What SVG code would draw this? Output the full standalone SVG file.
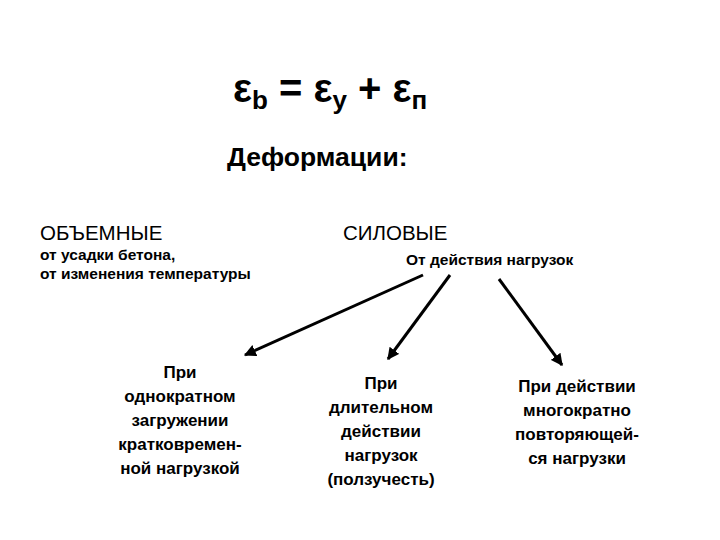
<svg xmlns="http://www.w3.org/2000/svg" width="720" height="540" viewBox="0 0 720 540">
<style>
text{font-family:"Liberation Sans",Arial,sans-serif;fill:#000}
.b{font-weight:bold}
.s{font-size:15.5px;font-weight:bold}
.h{font-size:20.5px}
.m{font-size:17px;font-weight:bold}
.c{text-anchor:middle}
line{stroke:#000;stroke-width:3}
</style>
<defs><marker id="a" viewBox="0 0 10 10" refX="9" refY="5" markerWidth="4" markerHeight="4" orient="auto"><path d="M0,0L10,5L0,10z" fill="#000"/></marker></defs>
<rect width="720" height="540" fill="#fff"/>
<g id="formula"><text x="233" y="102" class="b" font-size="40">ε<tspan font-size="26" dy="7">b</tspan><tspan dy="-7"> = ε</tspan><tspan font-size="26" dy="7">у</tspan><tspan dy="-7"> + ε</tspan><tspan font-size="26" dy="7">п</tspan></text></g>
<g id="title"><text x="227" y="166" class="b" font-size="26.5">Деформации:</text></g>
<g id="volume"><text x="40" y="240" class="h">ОБЪЕМНЫЕ</text>
<text x="40" y="260" class="s">от усадки бетона,</text><text x="40" y="279" class="s">от изменения температуры</text></g>
<g id="force"><text x="343" y="240" class="h">СИЛОВЫЕ</text>
<text x="406" y="265" class="s" font-size="16.5">От действия нагрузок</text></g>
<g id="n1"><text class="m c" x="180" y="378">При</text><text class="m c" x="180" y="402">однократном</text><text class="m c" x="180" y="426">загружении</text><text class="m c" x="180" y="450">кратковремен-</text><text class="m c" x="180" y="474">ной нагрузкой</text></g>
<g id="n2"><text class="m c" x="381" y="389">При</text><text class="m c" x="381" y="413">длительном</text><text class="m c" x="381" y="437">действии</text><text class="m c" x="381" y="461">нагрузок</text><text class="m c" x="381" y="485">(ползучесть)</text></g>
<g id="n3"><text class="m c" x="577" y="392">При действии</text><text class="m c" x="577" y="416">многократно</text><text class="m c" x="577" y="440">повторяющей-</text><text class="m c" x="577" y="464">ся нагрузки</text></g>
<g id="connectors">
<line x1="423" y1="275" x2="245" y2="355" marker-end="url(#a)"/>
<line x1="450" y1="275" x2="388" y2="359" marker-end="url(#a)"/>
<line x1="499" y1="279" x2="562" y2="365" marker-end="url(#a)"/>
</g>
</svg>
